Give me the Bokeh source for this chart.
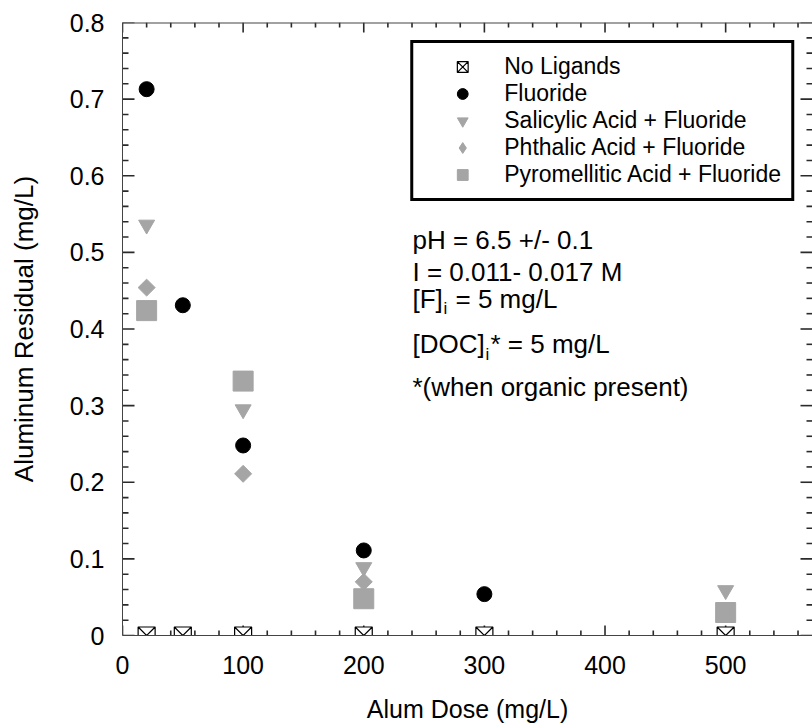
import numpy as np
from bokeh.plotting import figure
from bokeh.models import (Range1d, LinearAxis, SingleIntervalTicker, CustomJSTickFormatter,
                          Legend, LegendItem, Label, Span, ColumnDataSource)
from bokeh.embed import file_html
from bokeh.resources import INLINE

# ---------------- data ----------------
no_ligands_x = [20, 50, 100, 200, 300, 500]
no_ligands_y = [0, 0, 0, 0, 0, 0]

fluoride_x = [20, 50, 100, 200, 300]
fluoride_y = [0.713, 0.431, 0.248, 0.111, 0.054]

salicylic_x = [20, 100, 200, 500]
salicylic_y = [0.536, 0.295, 0.089, 0.059]

phthalic_x = [20, 100, 200]
phthalic_y = [0.454, 0.211, 0.070]

pyromellitic_x = [20, 100, 200, 500]
pyromellitic_y = [0.424, 0.332, 0.048, 0.030]

series_labels = ["No Ligands", "Fluoride", "Salicylic Acid + Fluoride",
                 "Phthalic Acid + Fluoride", "Pyromellitic Acid + Fluoride"]

x_label = "Alum Dose (mg/L)"
y_label = "Aluminum Residual (mg/L)"

# axis extents and tick spacing
X_MAX, Y_MAX = 572, 0.8
X_MAJOR, X_MINOR = 100, 20
Y_MAJOR, Y_MINOR = 0.1, 0.02

# ---------------- style ----------------
FONT = "Liberation Sans"
GRAY = "#a5a5a5"
AXC = "#444444"
TKC = "#2a2a2a"
W, H = 812, 728
BL, BR, BT, BB = 122, 0, 22, 93

p = figure(width=W, height=H, output_backend="svg", toolbar_location=None,
           x_range=Range1d(0, X_MAX), y_range=Range1d(0, Y_MAX),
           x_axis_type=None, y_axis_type=None,
           min_border_left=BL, min_border_right=BR, min_border_top=BT, min_border_bottom=BB)
p.outline_line_color = None
p.background_fill_color = "white"
p.border_fill_color = "white"

xt = SingleIntervalTicker(interval=X_MAJOR, num_minor_ticks=5)
yt = SingleIntervalTicker(interval=Y_MAJOR, num_minor_ticks=5)


def style_axis(ax):
    ax.axis_line_color = AXC
    ax.major_tick_line_color = None
    ax.minor_tick_line_color = None
    ax.major_tick_in = 0
    ax.major_tick_out = 0
    ax.minor_tick_in = 0
    ax.minor_tick_out = 0
    ax.major_label_text_font = FONT
    ax.major_label_text_color = "black"
    ax.axis_label_text_font = FONT
    ax.axis_label_text_font_style = "normal"
    ax.axis_label_text_color = "black"


bottom = LinearAxis(ticker=xt, axis_label=x_label)
style_axis(bottom)
bottom.major_label_text_font_size = "25px"
bottom.major_label_standoff = 20
bottom.axis_label_text_font_size = "25px"
bottom.axis_label_standoff = 18
p.add_layout(bottom, "below")

left = LinearAxis(ticker=yt, axis_label=y_label,
                  formatter=CustomJSTickFormatter(
                      code="return Math.abs(tick) < 1e-9 ? '0' : tick.toFixed(1);"))
style_axis(left)
left.major_label_text_font_size = "25px"
left.major_label_standoff = 18
left.axis_label_text_font_size = "26px"
left.axis_label_standoff = 28
p.add_layout(left, "left")

# top frame edge
p.add_layout(Span(location=Y_MAX, dimension="width", line_color=AXC, line_width=2))

# ---------------- inward tick marks on all four sides ----------------
fw, fh = W - BL - BR, H - BT - BB
dx_px = X_MAX / fw      # data units per pixel (x)
dy_px = Y_MAX / fh      # data units per pixel (y)

x_all = [float(v) for v in np.round(np.arange(0, X_MAX + 1e-9, X_MINOR), 6)]
x_len = [(10 if abs(v % X_MAJOR) < 1e-6 else 5) * dy_px for v in x_all]
y_all = [float(v) for v in np.round(np.arange(0, Y_MAX + 1e-9, Y_MINOR), 6)]
y_len = [(12 if (round(v * 50) % 5 == 0) else 6) * dx_px for v in y_all]

TK = dict(line_color=TKC, line_width=1.6)
nx, ny = len(x_all), len(y_all)
p.segment(x0="x0", y0="y0", x1="x1", y1="y1", source=ColumnDataSource(
    dict(x0=x_all, y0=[0.0] * nx, x1=x_all, y1=x_len)), **TK)
p.segment(x0="x0", y0="y0", x1="x1", y1="y1", source=ColumnDataSource(
    dict(x0=x_all, y0=[Y_MAX] * nx, x1=x_all, y1=[Y_MAX - v for v in x_len])), **TK)
p.segment(x0="x0", y0="y0", x1="x1", y1="y1", source=ColumnDataSource(
    dict(x0=[0.0] * ny, y0=y_all, x1=y_len, y1=y_all)), **TK)
p.segment(x0="x0", y0="y0", x1="x1", y1="y1", source=ColumnDataSource(
    dict(x0=[float(X_MAX)] * ny, y0=y_all, x1=[X_MAX - v for v in y_len], y1=y_all)), **TK)

# ---------------- series ----------------
r_pyro = p.scatter(x=pyromellitic_x, y=pyromellitic_y, marker="square", size=20,
                   fill_color=GRAY, line_color=GRAY)
r_phth = p.scatter(x=phthalic_x, y=phthalic_y, marker="square", angle=np.pi / 4, size=12,
                   fill_color=GRAY, line_color=GRAY)
r_phth_leg = p.scatter(x=phthalic_x, y=phthalic_y, marker="diamond", size=17,
                       fill_color=GRAY, line_color=GRAY, visible=False)
r_sal = p.scatter(x=salicylic_x, y=salicylic_y, marker="inverted_triangle", size=16,
                  fill_color=GRAY, line_color=GRAY)
r_flu = p.scatter(x=fluoride_x, y=fluoride_y, marker="circle", size=15,
                  fill_color="black", line_color="black")
r_none = p.scatter(x=no_ligands_x, y=no_ligands_y, marker="square_x", size=17,
                   fill_color="white", line_color="black", line_width=1.2)

legend = Legend(items=[
    LegendItem(label=series_labels[0], renderers=[r_none]),
    LegendItem(label=series_labels[1], renderers=[r_flu]),
    LegendItem(label=series_labels[2], renderers=[r_sal]),
    LegendItem(label=series_labels[3], renderers=[r_phth_leg]),
    LegendItem(label=series_labels[4], renderers=[r_pyro]),
], location="top_right", margin=18, padding=10, spacing=0,
    glyph_width=78, glyph_height=27, label_height=27, label_standoff=3,
    label_text_font=FONT, label_text_font_size="23px", label_text_color="black",
    border_line_color="black", border_line_width=3, border_line_alpha=1.0,
    background_fill_color="white", background_fill_alpha=1.0)
p.add_layout(legend)

# ---------------- annotation text ----------------
ann_x = 240.4
TS = "26px"
SUB = "17px"


def lab(x, y, text, size=TS, xo=0, yo=0):
    p.add_layout(Label(x=x, y=y, x_offset=xo, y_offset=yo, text=text,
                       text_font=FONT, text_font_size=size, text_color="black",
                       text_baseline="alphabetic", text_align="left"))


lab(ann_x, 0.5155, "pH = 6.5 +/- 0.1")
lab(ann_x, 0.4750, "I = 0.011- 0.017 M")
lab(ann_x, 0.4398, "[F]")
lab(ann_x, 0.4398, "i", size=SUB, xo=31, yo=-10)
lab(ann_x, 0.4398, "= 5 mg/L", xo=43)
lab(ann_x, 0.3798, "[DOC]")
lab(ann_x, 0.3798, "i", size=SUB, xo=73, yo=-10)
lab(ann_x, 0.3798, "* = 5 mg/L", xo=78)
lab(ann_x, 0.3237, "*(when organic present)")

open("out.html", "w").write(file_html(p, INLINE))
